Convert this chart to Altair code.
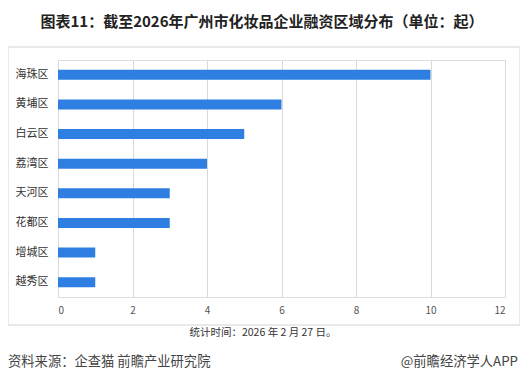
import altair as alt
import pandas as pd

categories = ["海珠区", "黄埔区", "白云区", "荔湾区", "天河区", "花都区", "增城区", "越秀区"]
counts = [10, 6, 5, 4, 3, 3, 1, 1]
x_ticks = [0, 2, 4, 6, 8, 10, 12]

title_text = "图表11：截至2026年广州市化妆品企业融资区域分布（单位：起）"
note_text = "统计时间：2026 年 2 月 27 日。"
source_text = "资料来源：企查猫 前瞻产业研究院"
brand_text = "@前瞻经济学人APP"

FONT = "Noto Sans CJK SC"

df = pd.DataFrame({"区域": categories, "数量": counts})
one = pd.DataFrame({"k": [0]})

bars = alt.Chart(df).mark_bar(color="#2f7fe2", size=10).encode(
    x=alt.X("数量:Q", scale=alt.Scale(domain=[0, 12]),
            axis=alt.Axis(values=x_ticks, title=None, grid=True, gridColor="#d9d9d9",
                          domain=False, ticks=False, labelFont=FONT, labelFontSize=10,
                          labelColor="#555555", labelPadding=8)),
    y=alt.Y("区域:N", sort=categories,
            axis=alt.Axis(title=None, domain=False, ticks=False, labelFont=FONT,
                          labelFontSize=11, labelColor="#333333", labelPadding=10)),
)

border = alt.Chart(one).mark_rect(fillOpacity=0, stroke="#d4d4d4", strokeWidth=1).encode(
    x=alt.value(-50), x2=alt.value(462), y=alt.value(-13), y2=alt.value(265)
)

title = alt.Chart(one).mark_text(font=FONT, fontSize=15, fontWeight="bold",
                                 color="#222222", align="center", baseline="middle").encode(
    x=alt.value(204), y=alt.value(-38), text=alt.value(title_text)
)

note = alt.Chart(one).mark_text(font=FONT, fontSize=10.5, color="#333333",
                                align="center", baseline="middle").encode(
    x=alt.value(205), y=alt.value(273), text=alt.value(note_text)
)

source = alt.Chart(one).mark_text(font=FONT, fontSize=13.3, color="#444444",
                                  align="left", baseline="middle").encode(
    x=alt.value(-50), y=alt.value(302), text=alt.value(source_text)
)

brand = alt.Chart(one).mark_text(font=FONT, fontSize=13.3, color="#444444",
                                 align="right", baseline="middle").encode(
    x=alt.value(460), y=alt.value(302), text=alt.value(brand_text)
)

chart = alt.layer(border, bars, title, note, source, brand).properties(
    width=447, height=237,
    autosize="none",
    padding={"left": 50, "top": 52, "right": 15, "bottom": 79},
).configure_view(stroke=None).configure(background="white")

chart.save("out.html", embed_options={"renderer": "svg", "actions": False})
